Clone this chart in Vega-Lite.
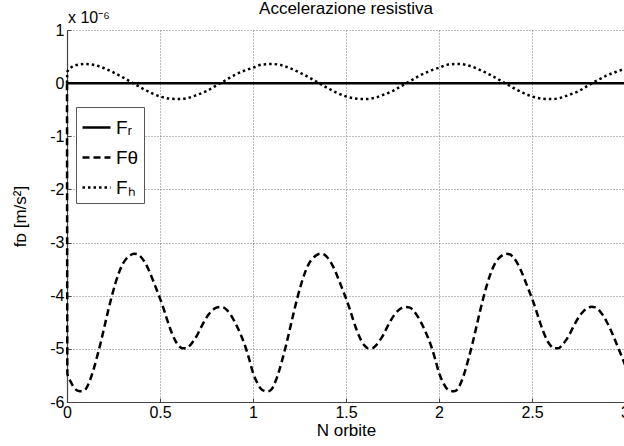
{
"$schema": "https://vega.github.io/schema/vega-lite/v6.json",
"width": 558, "height": 372,
"autosize": {"type": "none"},
"padding": {"left": 67, "top": 30, "right": 0, "bottom": 44},
"background": "white",
"title": {"text": "Accelerazione resistiva", "fontSize": 17, "fontWeight": "normal", "font": "Liberation Sans", "color": "black", "offset": -8, "anchor": "middle", "frame": "group"},
"config": {"view": {"stroke": null}, "font": "Liberation Sans"},
"layer": [
{
"data": {"values": [
{"x":0,"v":0,"s":"Fr"},{"x":0.5,"v":0,"s":"Fr"},{"x":1,"v":0,"s":"Fr"},{"x":1.5,"v":0,"s":"Fr"},{"x":2,"v":0,"s":"Fr"},{"x":2.5,"v":0,"s":"Fr"},{"x":3,"v":0,"s":"Fr"},
{"x":0,"v":0,"s":"Ft"},{"x":0.002,"v":-5.47,"s":"Ft"},
{"x":0.02,"v":-5.62,"s":"Ft"},{"x":0.04,"v":-5.74,"s":"Ft"},{"x":0.06,"v":-5.79,"s":"Ft"},{"x":0.08,"v":-5.8,"s":"Ft"},{"x":0.1,"v":-5.76,"s":"Ft"},{"x":0.12,"v":-5.62,"s":"Ft"},{"x":0.14,"v":-5.42,"s":"Ft"},{"x":0.16,"v":-5.17,"s":"Ft"},{"x":0.18,"v":-4.9,"s":"Ft"},{"x":0.2,"v":-4.6,"s":"Ft"},{"x":0.22,"v":-4.3,"s":"Ft"},{"x":0.24,"v":-4.02,"s":"Ft"},{"x":0.26,"v":-3.77,"s":"Ft"},{"x":0.28,"v":-3.56,"s":"Ft"},{"x":0.3,"v":-3.4,"s":"Ft"},{"x":0.32,"v":-3.3,"s":"Ft"},{"x":0.34,"v":-3.24,"s":"Ft"},{"x":0.36,"v":-3.21,"s":"Ft"},{"x":0.38,"v":-3.22,"s":"Ft"},{"x":0.4,"v":-3.28,"s":"Ft"},{"x":0.42,"v":-3.38,"s":"Ft"},{"x":0.44,"v":-3.52,"s":"Ft"},{"x":0.46,"v":-3.69,"s":"Ft"},{"x":0.48,"v":-3.87,"s":"Ft"},{"x":0.5,"v":-4.05,"s":"Ft"},{"x":0.52,"v":-4.25,"s":"Ft"},{"x":0.54,"v":-4.47,"s":"Ft"},{"x":0.56,"v":-4.67,"s":"Ft"},{"x":0.58,"v":-4.83,"s":"Ft"},{"x":0.6,"v":-4.94,"s":"Ft"},{"x":0.62,"v":-4.99,"s":"Ft"},{"x":0.64,"v":-4.99,"s":"Ft"},{"x":0.66,"v":-4.94,"s":"Ft"},{"x":0.68,"v":-4.85,"s":"Ft"},{"x":0.7,"v":-4.74,"s":"Ft"},{"x":0.72,"v":-4.6,"s":"Ft"},{"x":0.74,"v":-4.47,"s":"Ft"},{"x":0.76,"v":-4.36,"s":"Ft"},{"x":0.78,"v":-4.28,"s":"Ft"},{"x":0.8,"v":-4.23,"s":"Ft"},{"x":0.82,"v":-4.21,"s":"Ft"},{"x":0.84,"v":-4.22,"s":"Ft"},{"x":0.86,"v":-4.27,"s":"Ft"},{"x":0.88,"v":-4.36,"s":"Ft"},{"x":0.9,"v":-4.48,"s":"Ft"},{"x":0.92,"v":-4.62,"s":"Ft"},{"x":0.94,"v":-4.78,"s":"Ft"},{"x":0.96,"v":-4.97,"s":"Ft"},{"x":0.98,"v":-5.2,"s":"Ft"},
{"x":1.0,"v":-5.45,"s":"Ft"},{"x":1.02,"v":-5.62,"s":"Ft"},{"x":1.04,"v":-5.74,"s":"Ft"},{"x":1.06,"v":-5.79,"s":"Ft"},{"x":1.08,"v":-5.8,"s":"Ft"},{"x":1.1,"v":-5.76,"s":"Ft"},{"x":1.12,"v":-5.62,"s":"Ft"},{"x":1.14,"v":-5.42,"s":"Ft"},{"x":1.16,"v":-5.17,"s":"Ft"},{"x":1.18,"v":-4.9,"s":"Ft"},{"x":1.2,"v":-4.6,"s":"Ft"},{"x":1.22,"v":-4.3,"s":"Ft"},{"x":1.24,"v":-4.02,"s":"Ft"},{"x":1.26,"v":-3.77,"s":"Ft"},{"x":1.28,"v":-3.56,"s":"Ft"},{"x":1.3,"v":-3.4,"s":"Ft"},{"x":1.32,"v":-3.3,"s":"Ft"},{"x":1.34,"v":-3.24,"s":"Ft"},{"x":1.36,"v":-3.21,"s":"Ft"},{"x":1.38,"v":-3.22,"s":"Ft"},{"x":1.4,"v":-3.28,"s":"Ft"},{"x":1.42,"v":-3.38,"s":"Ft"},{"x":1.44,"v":-3.52,"s":"Ft"},{"x":1.46,"v":-3.69,"s":"Ft"},{"x":1.48,"v":-3.87,"s":"Ft"},{"x":1.5,"v":-4.05,"s":"Ft"},{"x":1.52,"v":-4.25,"s":"Ft"},{"x":1.54,"v":-4.47,"s":"Ft"},{"x":1.56,"v":-4.67,"s":"Ft"},{"x":1.58,"v":-4.83,"s":"Ft"},{"x":1.6,"v":-4.94,"s":"Ft"},{"x":1.62,"v":-4.99,"s":"Ft"},{"x":1.64,"v":-4.99,"s":"Ft"},{"x":1.66,"v":-4.94,"s":"Ft"},{"x":1.68,"v":-4.85,"s":"Ft"},{"x":1.7,"v":-4.74,"s":"Ft"},{"x":1.72,"v":-4.6,"s":"Ft"},{"x":1.74,"v":-4.47,"s":"Ft"},{"x":1.76,"v":-4.36,"s":"Ft"},{"x":1.78,"v":-4.28,"s":"Ft"},{"x":1.8,"v":-4.23,"s":"Ft"},{"x":1.82,"v":-4.21,"s":"Ft"},{"x":1.84,"v":-4.22,"s":"Ft"},{"x":1.86,"v":-4.27,"s":"Ft"},{"x":1.88,"v":-4.36,"s":"Ft"},{"x":1.9,"v":-4.48,"s":"Ft"},{"x":1.92,"v":-4.62,"s":"Ft"},{"x":1.94,"v":-4.78,"s":"Ft"},{"x":1.96,"v":-4.97,"s":"Ft"},{"x":1.98,"v":-5.2,"s":"Ft"},
{"x":2.0,"v":-5.45,"s":"Ft"},{"x":2.02,"v":-5.62,"s":"Ft"},{"x":2.04,"v":-5.74,"s":"Ft"},{"x":2.06,"v":-5.79,"s":"Ft"},{"x":2.08,"v":-5.8,"s":"Ft"},{"x":2.1,"v":-5.76,"s":"Ft"},{"x":2.12,"v":-5.62,"s":"Ft"},{"x":2.14,"v":-5.42,"s":"Ft"},{"x":2.16,"v":-5.17,"s":"Ft"},{"x":2.18,"v":-4.9,"s":"Ft"},{"x":2.2,"v":-4.6,"s":"Ft"},{"x":2.22,"v":-4.3,"s":"Ft"},{"x":2.24,"v":-4.02,"s":"Ft"},{"x":2.26,"v":-3.77,"s":"Ft"},{"x":2.28,"v":-3.56,"s":"Ft"},{"x":2.3,"v":-3.4,"s":"Ft"},{"x":2.32,"v":-3.3,"s":"Ft"},{"x":2.34,"v":-3.24,"s":"Ft"},{"x":2.36,"v":-3.21,"s":"Ft"},{"x":2.38,"v":-3.22,"s":"Ft"},{"x":2.4,"v":-3.28,"s":"Ft"},{"x":2.42,"v":-3.38,"s":"Ft"},{"x":2.44,"v":-3.52,"s":"Ft"},{"x":2.46,"v":-3.69,"s":"Ft"},{"x":2.48,"v":-3.87,"s":"Ft"},{"x":2.5,"v":-4.05,"s":"Ft"},{"x":2.52,"v":-4.25,"s":"Ft"},{"x":2.54,"v":-4.47,"s":"Ft"},{"x":2.56,"v":-4.67,"s":"Ft"},{"x":2.58,"v":-4.83,"s":"Ft"},{"x":2.6,"v":-4.94,"s":"Ft"},{"x":2.62,"v":-4.99,"s":"Ft"},{"x":2.64,"v":-4.99,"s":"Ft"},{"x":2.66,"v":-4.94,"s":"Ft"},{"x":2.68,"v":-4.85,"s":"Ft"},{"x":2.7,"v":-4.74,"s":"Ft"},{"x":2.72,"v":-4.6,"s":"Ft"},{"x":2.74,"v":-4.47,"s":"Ft"},{"x":2.76,"v":-4.36,"s":"Ft"},{"x":2.78,"v":-4.28,"s":"Ft"},{"x":2.8,"v":-4.23,"s":"Ft"},{"x":2.82,"v":-4.21,"s":"Ft"},{"x":2.84,"v":-4.22,"s":"Ft"},{"x":2.86,"v":-4.27,"s":"Ft"},{"x":2.88,"v":-4.36,"s":"Ft"},{"x":2.9,"v":-4.48,"s":"Ft"},{"x":2.92,"v":-4.62,"s":"Ft"},{"x":2.94,"v":-4.78,"s":"Ft"},{"x":2.96,"v":-4.95,"s":"Ft"},{"x":2.98,"v":-5.12,"s":"Ft"},{"x":3.0,"v":-5.3,"s":"Ft"},
{"x":0,"v":0,"s":"Fh"},{"x":0.002,"v":0.22,"s":"Fh"},{"x":0.05,"v":0.34,"s":"Fh"},{"x":0.1,"v":0.36,"s":"Fh"},{"x":0.15,"v":0.34,"s":"Fh"},{"x":0.2,"v":0.28,"s":"Fh"},{"x":0.25,"v":0.2,"s":"Fh"},{"x":0.3,"v":0.11,"s":"Fh"},{"x":0.35,"v":0.01,"s":"Fh"},{"x":0.4,"v":-0.09,"s":"Fh"},{"x":0.45,"v":-0.18,"s":"Fh"},{"x":0.5,"v":-0.25,"s":"Fh"},{"x":0.55,"v":-0.29,"s":"Fh"},{"x":0.6,"v":-0.3,"s":"Fh"},{"x":0.65,"v":-0.28,"s":"Fh"},{"x":0.7,"v":-0.22,"s":"Fh"},{"x":0.75,"v":-0.15,"s":"Fh"},{"x":0.8,"v":-0.05,"s":"Fh"},{"x":0.85,"v":0.05,"s":"Fh"},{"x":0.9,"v":0.15,"s":"Fh"},{"x":0.95,"v":0.23,"s":"Fh"},
{"x":1.0,"v":0.29,"s":"Fh"},{"x":1.05,"v":0.35,"s":"Fh"},{"x":1.1,"v":0.36,"s":"Fh"},{"x":1.15,"v":0.34,"s":"Fh"},{"x":1.2,"v":0.28,"s":"Fh"},{"x":1.25,"v":0.2,"s":"Fh"},{"x":1.3,"v":0.11,"s":"Fh"},{"x":1.35,"v":0.01,"s":"Fh"},{"x":1.4,"v":-0.09,"s":"Fh"},{"x":1.45,"v":-0.18,"s":"Fh"},{"x":1.5,"v":-0.25,"s":"Fh"},{"x":1.55,"v":-0.29,"s":"Fh"},{"x":1.6,"v":-0.3,"s":"Fh"},{"x":1.65,"v":-0.28,"s":"Fh"},{"x":1.7,"v":-0.22,"s":"Fh"},{"x":1.75,"v":-0.15,"s":"Fh"},{"x":1.8,"v":-0.05,"s":"Fh"},{"x":1.85,"v":0.05,"s":"Fh"},{"x":1.9,"v":0.15,"s":"Fh"},{"x":1.95,"v":0.23,"s":"Fh"},
{"x":2.0,"v":0.29,"s":"Fh"},{"x":2.05,"v":0.35,"s":"Fh"},{"x":2.1,"v":0.36,"s":"Fh"},{"x":2.15,"v":0.34,"s":"Fh"},{"x":2.2,"v":0.28,"s":"Fh"},{"x":2.25,"v":0.2,"s":"Fh"},{"x":2.3,"v":0.11,"s":"Fh"},{"x":2.35,"v":0.01,"s":"Fh"},{"x":2.4,"v":-0.09,"s":"Fh"},{"x":2.45,"v":-0.18,"s":"Fh"},{"x":2.5,"v":-0.25,"s":"Fh"},{"x":2.55,"v":-0.29,"s":"Fh"},{"x":2.6,"v":-0.3,"s":"Fh"},{"x":2.65,"v":-0.28,"s":"Fh"},{"x":2.7,"v":-0.22,"s":"Fh"},{"x":2.75,"v":-0.15,"s":"Fh"},{"x":2.8,"v":-0.05,"s":"Fh"},{"x":2.85,"v":0.05,"s":"Fh"},{"x":2.9,"v":0.14,"s":"Fh"},{"x":2.95,"v":0.21,"s":"Fh"},{"x":3.0,"v":0.27,"s":"Fh"}
]},
"mark": {"type": "line", "color": "black", "strokeWidth": 2.5, "interpolate": "monotone"},
"encoding": {
"x": {"field": "x", "type": "quantitative", "title": "N orbite",
 "scale": {"domain": [0, 3], "nice": false, "zero": false},
 "axis": {"values": [0, 0.5, 1, 1.5, 2, 2.5, 3], "labelExpr": "datum.value + ''", "grid": true, "gridDash": [1, 2], "gridColor": "#777", "gridWidth": 1, "domainColor": "#444", "domainWidth": 1.2, "ticks": true, "tickSize": -4, "tickColor": "#444", "labelPadding": 6, "labelFontSize": 16, "labelColor": "black", "labelFlush": false, "labelOverlap": false, "titleFontSize": 17, "titleFontWeight": "normal", "titleColor": "black", "titlePadding": 2}},
"y": {"field": "v", "type": "quantitative", "title": "fᴅ [m/s²]",
 "scale": {"domain": [-6, 1], "nice": false, "zero": false},
 "axis": {"values": [-6, -5, -4, -3, -2, -1, 0, 1], "labelExpr": "datum.value + ''", "grid": true, "gridDash": [1, 2], "gridColor": "#777", "gridWidth": 1, "domainColor": "#444", "domainWidth": 1.2, "ticks": true, "tickSize": -4, "tickColor": "#444", "labelPadding": 7, "labelFontSize": 16, "labelColor": "black", "labelFlush": false, "labelOverlap": false, "titleFontSize": 17, "titleFontWeight": "normal", "titleColor": "black", "titlePadding": 20}},
"strokeDash": {"field": "s", "type": "nominal",
 "scale": {"domain": ["Fr", "Ft", "Fh"], "range": [[1, 0], [7, 4], [2.5, 3]]},
 "legend": {"title": null, "orient": "none", "legendX": 9, "legendY": 77, "fillColor": "white", "strokeColor": "#555", "padding": 5, "rowPadding": 4, "symbolType": "stroke", "symbolStrokeWidth": 2.5, "symbolStrokeColor": "black", "symbolSize": 784, "labelFontSize": 19, "labelColor": "black", "labelOffset": 4, "labelExpr": "datum.value == 'Fr' ? 'Fᵣ' : datum.value == 'Ft' ? 'Fθ' : 'Fₕ'"}}
}
},
{
"data": {"values": [{}]},
"mark": {"type": "text", "text": "x 10⁻⁶", "align": "left", "baseline": "bottom", "fontSize": 16, "dy": -4, "dx": 1, "color": "black"},
"encoding": {"x": {"datum": 0}, "y": {"datum": 1}}
}
]
}
